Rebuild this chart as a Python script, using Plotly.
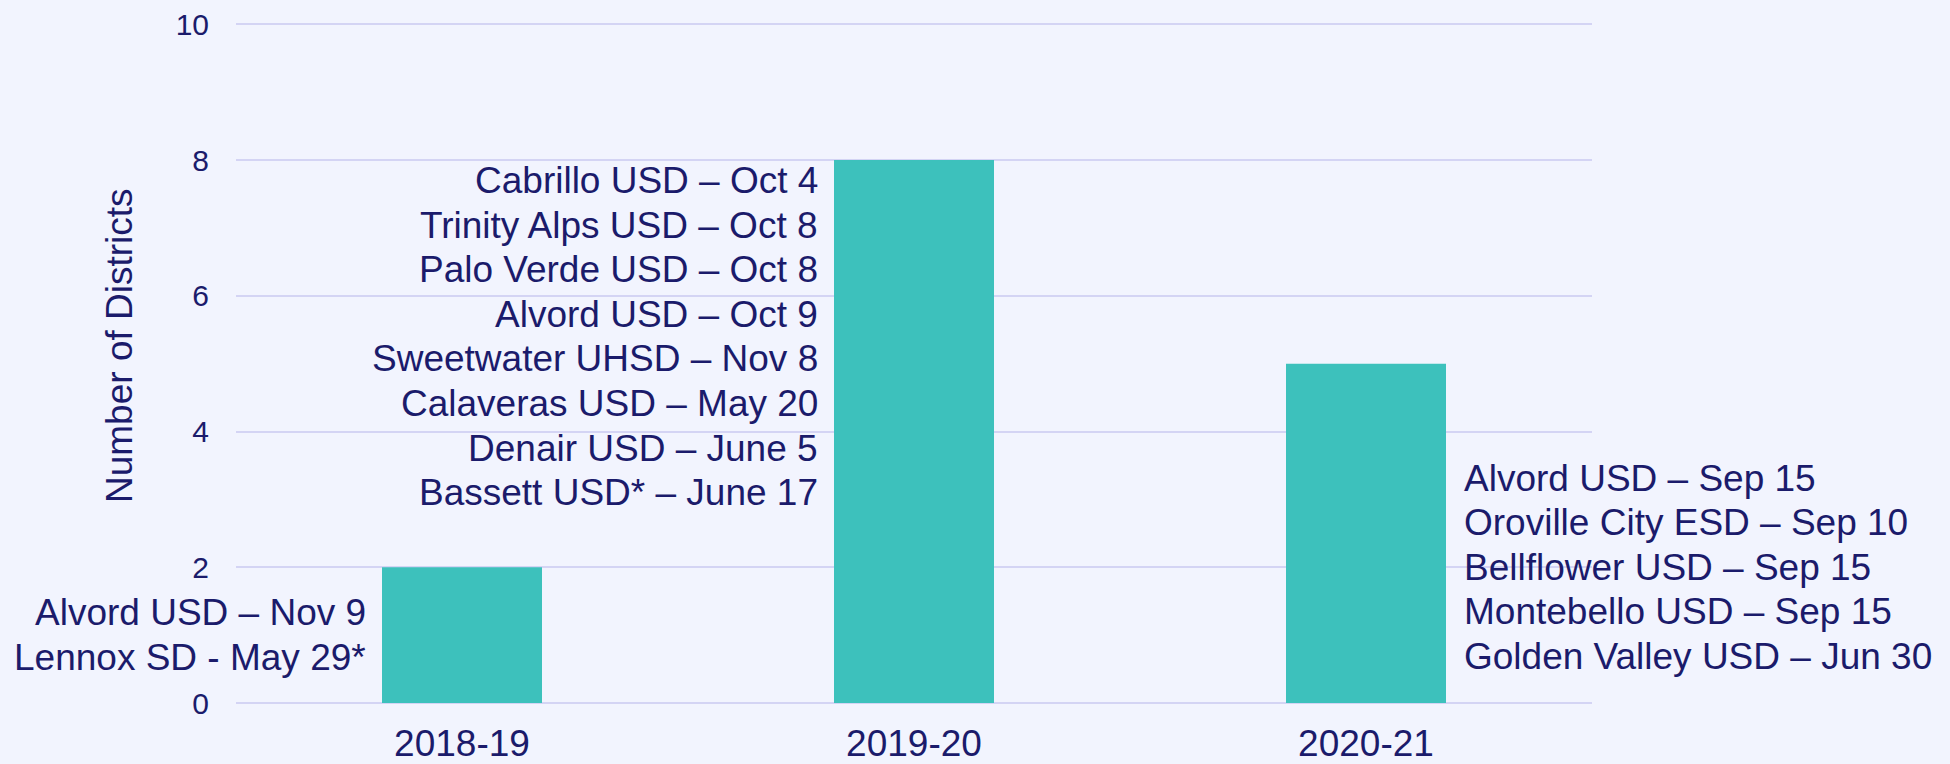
import plotly.graph_objects as go

years = ["2018-19", "2019-20", "2020-21"]
counts = [2, 8, 5]
districts = [
    ["Alvord USD – Nov 9", "Lennox SD - May 29*"],
    ["Cabrillo USD – Oct 4", "Trinity Alps USD – Oct 8", "Palo Verde USD – Oct 8",
     "Alvord USD – Oct 9", "Sweetwater UHSD – Nov 8", "Calaveras USD – May 20",
     "Denair USD – June 5", "Bassett USD* – June 17"],
    ["Alvord USD – Sep 15", "Oroville City ESD – Sep 10", "Bellflower USD – Sep 15",
     "Montebello USD – Sep 15", "Golden Valley USD – Jun 30"],
]
label_centers = [1.0, 5.4, 2.0]
label_sides = ["left", "left", "right"]
y_title = "Number of Districts"

FONT = "Liberation Sans, Arial, sans-serif"
NAVY = "#1B1B6B"
TEAL = "#3DC1BC"
BG = "#F2F4FE"
GRID = "#D4D4F4"

fig = go.Figure()
fig.add_trace(go.Bar(x=years, y=counts, marker=dict(color=TEAL, line=dict(width=0)),
                     hoverinfo="x+y"))

LINE = 44.6
annotations = []
for yr, names, yc, side in zip(years, districts, label_centers, label_sides):
    n = len(names)
    for i, name in enumerate(names):
        annotations.append(dict(
            x=yr, y=yc, xref="x", yref="y", text=name, showarrow=False,
            xanchor="right" if side == "left" else "left", yanchor="middle",
            xshift=-94 if side == "left" else 96,
            yshift=((n - 1) / 2 - i) * LINE,
            font=dict(family=FONT, size=37, color=NAVY),
        ))

# y-axis title
annotations.append(dict(
    x=0, y=0.5, xref="paper", yref="paper", text=y_title, showarrow=False,
    textangle=-90, xanchor="center", yanchor="middle", xshift=-117, yshift=17,
    font=dict(family=FONT, size=37, color=NAVY),
))

fig.update_layout(
    width=1950, height=764,
    margin=dict(l=236, r=358, t=23, b=61),
    paper_bgcolor=BG, plot_bgcolor=BG,
    bargap=0.646,
    showlegend=False,
    font=dict(family=FONT, color=NAVY),
    annotations=annotations,
    xaxis=dict(
        range=[-0.5, 2.5], autorange=False, automargin=False,
        tickfont=dict(family=FONT, size=37, color=NAVY),
        showgrid=False, showline=False, ticks="", ticklabelstandoff=15,
    ),
    yaxis=dict(
        range=[0, 10.02], autorange=False, automargin=False,
        tickvals=[0, 2, 4, 6, 8, 10],
        tickfont=dict(family=FONT, size=30, color=NAVY),
        showgrid=True, gridcolor=GRID, gridwidth=2,
        zeroline=True, zerolinecolor=GRID, zerolinewidth=2,
        showline=False, ticks="", ticklabelstandoff=26,
    ),
)

fig.write_html("out.html", config={"displayModeBar": False},
               post_script="document.body.style.margin='0';")
